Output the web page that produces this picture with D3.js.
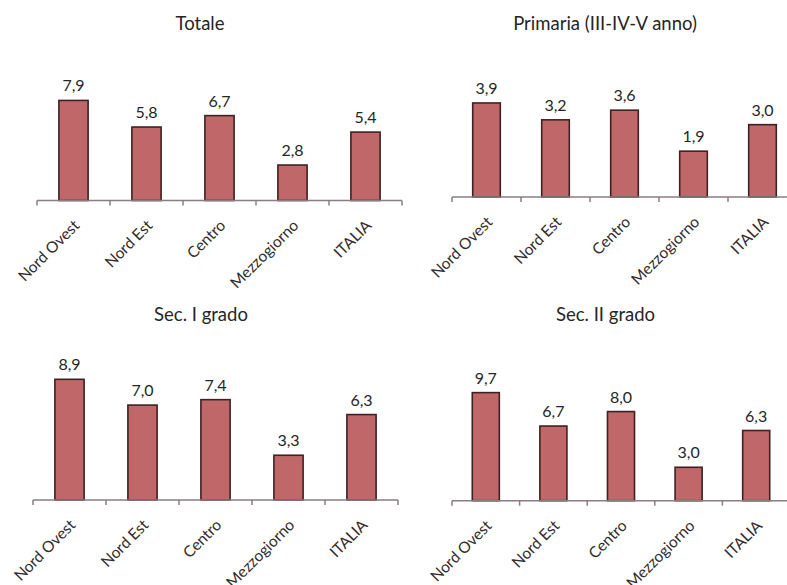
<!DOCTYPE html>
<html>
<head>
<meta charset="utf-8">
<script src="https://cdn.jsdelivr.net/npm/d3@7"></script>
<style>
  html, body { margin: 0; padding: 0; background: #ffffff; }
  svg { display: block; font-family: Lato, "Open Sans", sans-serif; }
</style>
</head>
<body>
<svg id="chart" width="787" height="585"></svg>
<script>
// Regional values (percent) for each school level
const categories = ["Nord Ovest", "Nord Est", "Centro", "Mezzogiorno", "ITALIA"];
const totale = [7.9, 5.8, 6.7, 2.8, 5.4];
const primaria = [3.9, 3.2, 3.6, 1.9, 3.0];
const secPrimoGrado = [8.9, 7.0, 7.4, 3.3, 6.3];
const secSecondoGrado = [9.7, 6.7, 8.0, 3.0, 6.3];
const panelTitles = ["Totale", "Primaria (III-IV-V anno)", "Sec. I grado", "Sec. II grado"];
const axisMax = [9, 4.5, 10, 12];

const series = [totale, primaria, secPrimoGrado, secSecondoGrado];

// Panel frames: axis span, baseline, plot top, title anchor
const frames = [
  { x0: 37,  x1: 402, base: 200.5, top: 86.5,  tx: 200,   ty: 30 },
  { x0: 452, x1: 797, base: 197,   top: 88.5,  tx: 605,   ty: 30 },
  { x0: 33,  x1: 398, base: 500,   top: 364.4, tx: 201,   ty: 321 },
  { x0: 452, x1: 790, base: 500.7, top: 367,   tx: 605.5, ty: 321 }
];

const it = d3.formatLocale({ decimal: ",", thousands: ".", grouping: [3], currency: ["", " €"] });
const fmt = it.format(".1f");

const svg = d3.select("#chart");
svg.append("rect").attr("width", 787).attr("height", 585).attr("fill", "#ffffff");

series.forEach((values, i) => {
  const f = frames[i];
  const g = svg.append("g");

  const band = d3.scaleBand().domain(categories).range([f.x0, f.x1]);
  const y = d3.scaleLinear().domain([0, axisMax[i]]).range([f.base, f.top]);

  // title
  g.append("text")
    .attr("x", f.tx).attr("y", f.ty)
    .attr("text-anchor", "middle")
    .attr("font-size", 18.5)
    .attr("fill", "#262626")
    .text(panelTitles[i]);

  // bars
  g.selectAll("rect.bar")
    .data(values)
    .join("rect")
    .attr("class", "bar")
    .attr("x", (d, j) => band(categories[j]) + band.bandwidth() / 2 - band.bandwidth() * 0.2)
    .attr("width", band.bandwidth() * 0.4)
    .attr("y", d => y(d))
    .attr("height", d => f.base - y(d))
    .attr("fill", "#c0676a")
    .attr("stroke", "#3e2223")
    .attr("stroke-width", 1.6);

  // value labels
  g.selectAll("text.val")
    .data(values)
    .join("text")
    .attr("class", "val")
    .attr("x", (d, j) => band(categories[j]) + band.bandwidth() / 2)
    .attr("y", d => y(d) - 9)
    .attr("text-anchor", "middle")
    .attr("font-size", 16)
    .attr("fill", "#262626")
    .text(d => fmt(d));

  // category axis: baseline with tick marks at band edges
  const ax = g.append("g").attr("transform", `translate(0,${f.base})`);
  ax.append("line")
    .attr("x1", f.x0).attr("x2", f.x1).attr("y1", 0).attr("y2", 0)
    .attr("stroke", "#8b7d80").attr("stroke-width", 1.5);
  const edges = categories.map(c => band(c)).concat([f.x1]);
  ax.selectAll("line.tk")
    .data(edges)
    .join("line")
    .attr("class", "tk")
    .attr("x1", d => d).attr("x2", d => d)
    .attr("y1", 0).attr("y2", 5)
    .attr("stroke", "#8b7d80").attr("stroke-width", 1.5);

  // rotated category labels
  g.selectAll("text.cat")
    .data(categories)
    .join("text")
    .attr("class", "cat")
    .attr("transform", c => `translate(${band(c) + band.bandwidth() / 2 + 7},${f.base + 26}) rotate(-45)`)
    .attr("text-anchor", "end")
    .attr("font-size", 15.5)
    .attr("fill", "#332b2c")
    .text(c => c);
});
</script>
</body>
</html>
